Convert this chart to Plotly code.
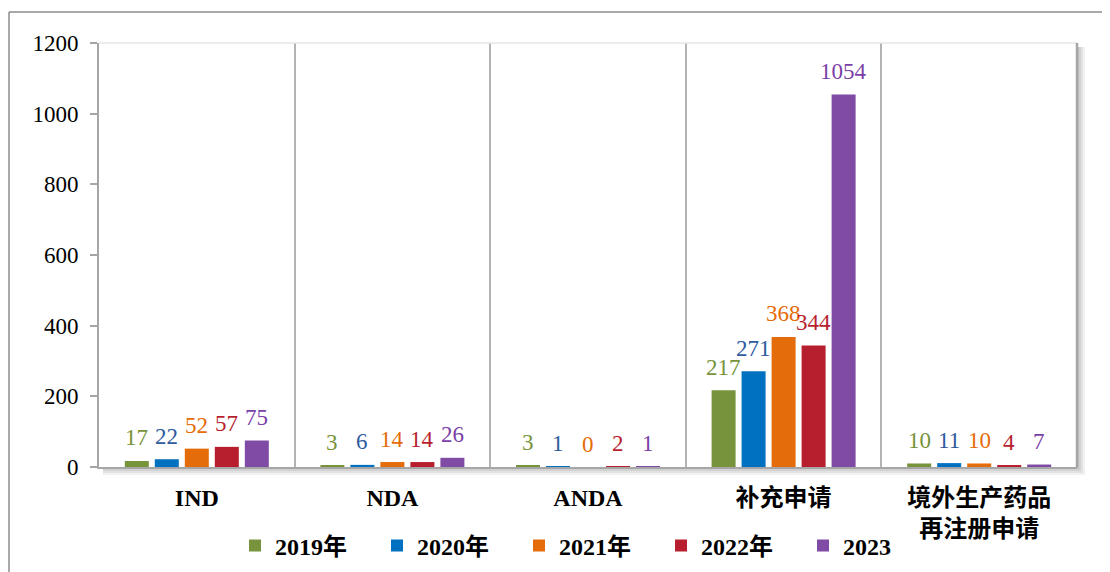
import plotly.graph_objects as go

# ---------------- data ----------------
categories = ["IND", "NDA", "ANDA", "补充申请", "境外生产药品<br>再注册申请"]
series_names = ["2019年", "2020年", "2021年", "2022年", "2023"]
v2019 = [17, 3, 3, 217, 10]
v2020 = [22, 6, 1, 271, 11]
v2021 = [52, 14, 0, 368, 10]
v2022 = [57, 14, 2, 344, 4]
v2023 = [75, 26, 1, 1054, 7]
series_values = [v2019, v2020, v2021, v2022, v2023]
y_ticks = [0, 200, 400, 600, 800, 1000, 1200]

# ---------------- styles ----------------
bar_colors = ["#77933C", "#0070C0", "#E46C0A", "#B71F2E", "#7F4BA5"]
label_colors = ["#77933C", "#2E5B9E", "#E46C0A", "#B71F2E", "#7B3FA8"]
SERIF = "'Liberation Serif', 'Noto Sans CJK SC', serif"

W, H = 1110, 572
OFF = 8  # page offset of the figure div (body margin)
# plot area in page pixels: x 99..1077, y 43..467
PL, PR, PT, PB = 99, 1077, 43, 467
L, T = PL - OFF, PT - OFF
R, B = W - (PR - OFF), H - (PB - OFF)
PW, PH = PR - PL, PB - PT


def px_x(p):
    return (p - PL) / PW


def px_y(p):
    return (PB - p) / PH


fig = go.Figure()
for name, vals, col in zip(series_names, series_values, bar_colors):
    fig.add_trace(go.Bar(
        name=name, x=categories, y=vals,
        marker=dict(color=col, line=dict(width=0)),
        hoverinfo="x+y",
    ))

# value labels above bars
slot_px = PW / len(categories) * (1 - 0.233) / len(series_names)
annotations = []
n = len(series_names)
for i, (vals, col) in enumerate(zip(series_values, label_colors)):
    for cat, v in zip(categories, vals):
        annotations.append(dict(
            x=cat, y=v, xref="x", yref="y", text=str(v), showarrow=False,
            xshift=(i - (n - 1) / 2) * slot_px, yshift=23, yanchor="middle",
            font=dict(family=SERIF, size=23, color=col),
        ))

shapes = []
# drop shadow of plot area (right and bottom)
for k, op in [(8, 0.10), (6, 0.12), (4, 0.15), (2, 0.2)]:
    shapes.append(dict(type="rect", xref="paper", yref="paper", layer="below",
                       x0=px_x(PL + 4), x1=px_x(PR + k), y0=px_y(PB + k), y1=px_y(PT + 4),
                       fillcolor=f"rgba(120,120,120,{op})", line=dict(width=0)))
# white plot area cover above the shadow
shapes.append(dict(type="rect", xref="paper", yref="paper", layer="below",
                   x0=0, x1=1, y0=0, y1=1, fillcolor="white", line=dict(width=0)))
# top border (light) and right border (gray)
shapes.append(dict(type="line", xref="paper", yref="paper", x0=0, x1=1, y0=1, y1=1,
                   line=dict(color="#E6E6E6", width=1.5)))
shapes.append(dict(type="line", xref="paper", yref="paper", x0=1, x1=1, y0=0, y1=1,
                   line=dict(color="#A6A6A6", width=2.5)))
# outer frame of the picture
shapes.append(dict(type="line", xref="paper", yref="paper",
                   x0=px_x(9), x1=px_x(W + 20), y0=px_y(12), y1=px_y(12),
                   line=dict(color="#8C8C8C", width=1.5)))
shapes.append(dict(type="line", xref="paper", yref="paper",
                   x0=px_x(9), x1=px_x(9), y0=px_y(12), y1=px_y(H + 20),
                   line=dict(color="#8C8C8C", width=1.5)))

fig.update_layout(
    width=W, height=H,
    margin=dict(l=L, r=R, t=T, b=B, autoexpand=False),
    paper_bgcolor="white", plot_bgcolor="rgba(0,0,0,0)",
    barmode="group", bargap=0.233, bargroupgap=0.2,
    font=dict(family=SERIF, color="black"),
    showlegend=True,
    legend=dict(orientation="h", x=px_x(235), xanchor="left", y=px_y(546), yanchor="middle",
                font=dict(family=SERIF, size=24, color="black", weight="bold"),
                entrywidth=97, entrywidthmode="pixels", traceorder="normal",
                bgcolor="rgba(0,0,0,0)", itemclick=False),
    annotations=annotations,
    shapes=shapes,
)
fig.update_xaxes(
    type="category", showline=True, linecolor="#A6A6A6", linewidth=2,
    tickson="boundaries", showgrid=True, gridcolor="#B3B3B3", gridwidth=1.5,
    ticks="", ticklabelstandoff=8,
    tickfont=dict(family=SERIF, size=24, color="black", weight="bold"),
    fixedrange=True,
)
fig.update_yaxes(
    range=[0, 1200], tickvals=y_ticks, ticktext=[str(t) for t in y_ticks],
    showline=True, linecolor="#A6A6A6", linewidth=2,
    ticks="outside", ticklen=7, tickcolor="#A6A6A6", tickwidth=1.5,
    showgrid=False, zeroline=False, ticklabelstandoff=7,
    tickfont=dict(family=SERIF, size=23, color="black"),
    fixedrange=True,
)

fig.write_html("out.html")
